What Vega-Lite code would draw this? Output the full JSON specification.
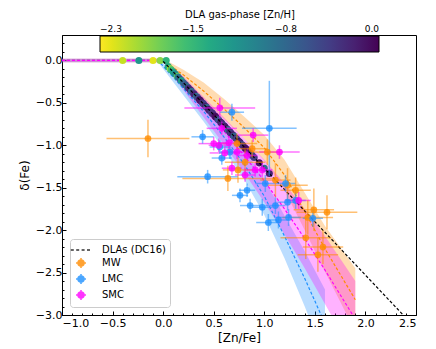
{
  "$schema": "https://vega.github.io/schema/vega-lite/v6.json",
  "width": 354,
  "height": 280,
  "autosize": {"type": "none"},
  "padding": {"left": 62, "top": 35, "right": 20, "bottom": 34},
  "background": "white",
  "config": {
    "font": "DejaVu Sans",
    "view": {"stroke": "black", "strokeWidth": 1},
    "axis": {"domainColor": "black", "tickColor": "black", "labelColor": "black", "titleColor": "black", "grid": false, "labelFont": "DejaVu Sans", "titleFont": "DejaVu Sans", "labelFontSize": 11, "titleFontSize": 12, "titleFontWeight": "normal", "tickSize": -4, "labelPadding": 4},
    "axisX": {"labelPadding": 6, "titlePadding": 4},
    "legend": {"labelFont": "DejaVu Sans", "titleFont": "DejaVu Sans", "labelColor": "black", "titleColor": "black"}
  },
  "datasets": {
    "model": [
      {"s": "MW", "x": -1, "y": 0, "lo": -0.02, "hi": 0.02},
      {"s": "MW", "x": 0, "y": 0, "lo": -0.02, "hi": 0.02},
      {"s": "MW", "x": 0.2, "y": -0.17, "lo": -0.23, "hi": -0.11},
      {"s": "MW", "x": 0.4, "y": -0.36, "lo": -0.46, "hi": -0.26},
      {"s": "MW", "x": 0.6, "y": -0.57, "lo": -0.69, "hi": -0.45},
      {"s": "MW", "x": 0.8, "y": -0.79, "lo": -0.92, "hi": -0.66},
      {"s": "MW", "x": 1.0, "y": -1.03, "lo": -1.18, "hi": -0.88},
      {"s": "MW", "x": 1.2, "y": -1.35, "lo": -1.53, "hi": -1.17},
      {"s": "MW", "x": 1.4, "y": -1.78, "lo": -2.0, "hi": -1.56},
      {"s": "MW", "x": 1.6, "y": -2.22, "lo": -2.49, "hi": -1.95},
      {"s": "MW", "x": 1.75, "y": -2.52, "lo": -2.84, "hi": -2.2},
      {"s": "MW", "x": 1.9, "y": -2.82, "lo": -3.2, "hi": -2.45},
      {"s": "LMC", "x": -1, "y": 0, "lo": -0.02, "hi": 0.02},
      {"s": "LMC", "x": -0.05, "y": 0, "lo": -0.02, "hi": 0.02},
      {"s": "LMC", "x": 0.2, "y": -0.33, "lo": -0.41, "hi": -0.25},
      {"s": "LMC", "x": 0.4, "y": -0.6, "lo": -0.72, "hi": -0.49},
      {"s": "LMC", "x": 0.6, "y": -0.9, "lo": -1.05, "hi": -0.76},
      {"s": "LMC", "x": 0.8, "y": -1.22, "lo": -1.4, "hi": -1.05},
      {"s": "LMC", "x": 1.0, "y": -1.6, "lo": -1.82, "hi": -1.4},
      {"s": "LMC", "x": 1.2, "y": -2.07, "lo": -2.33, "hi": -1.83},
      {"s": "LMC", "x": 1.4, "y": -2.57, "lo": -2.9, "hi": -2.25},
      {"s": "LMC", "x": 1.6, "y": -3.1, "lo": -3.5, "hi": -2.7},
      {"s": "SMC", "x": -1, "y": 0, "lo": -0.02, "hi": 0.02},
      {"s": "SMC", "x": 0, "y": 0, "lo": -0.02, "hi": 0.02},
      {"s": "SMC", "x": 0.2, "y": -0.27, "lo": -0.35, "hi": -0.19},
      {"s": "SMC", "x": 0.4, "y": -0.55, "lo": -0.67, "hi": -0.43},
      {"s": "SMC", "x": 0.6, "y": -0.83, "lo": -0.99, "hi": -0.67},
      {"s": "SMC", "x": 0.8, "y": -1.12, "lo": -1.32, "hi": -0.92},
      {"s": "SMC", "x": 1.0, "y": -1.42, "lo": -1.67, "hi": -1.17},
      {"s": "SMC", "x": 1.2, "y": -1.75, "lo": -2.05, "hi": -1.45},
      {"s": "SMC", "x": 1.4, "y": -2.1, "lo": -2.45, "hi": -1.75},
      {"s": "SMC", "x": 1.6, "y": -2.47, "lo": -2.87, "hi": -2.07},
      {"s": "SMC", "x": 1.9, "y": -3.05, "lo": -3.5, "hi": -2.6}
    ],
    "dla": [
      {"x": -0.40, "y": 0, "znh": -2.1},
      {"x": -0.24, "y": 0, "znh": -1.2},
      {"x": -0.10, "y": 0, "znh": -2.2},
      {"x": -0.03, "y": 0, "znh": -1.9},
      {"x": 0.03, "y": 0, "znh": -1.5},
      {"x": 0.05, "y": -0.073, "znh": -1.4},
      {"x": 0.07, "y": -0.098, "znh": -2.0},
      {"x": 0.08, "y": -0.111, "znh": -1.6},
      {"x": 0.10, "y": -0.136, "znh": -1.3},
      {"x": 0.12, "y": -0.161, "znh": -1.1},
      {"x": 0.14, "y": -0.186, "znh": -1.7},
      {"x": 0.15, "y": -0.199, "znh": -0.9},
      {"x": 0.17, "y": -0.224, "znh": -0.5},
      {"x": 0.18, "y": -0.237, "znh": -1.3},
      {"x": 0.20, "y": -0.262, "znh": -0.8},
      {"x": 0.22, "y": -0.287, "znh": -0.6},
      {"x": 0.24, "y": -0.312, "znh": -1.0},
      {"x": 0.25, "y": -0.325, "znh": -0.3},
      {"x": 0.27, "y": -0.350, "znh": -0.15},
      {"x": 0.28, "y": -0.363, "znh": -0.8},
      {"x": 0.30, "y": -0.388, "znh": -0.4},
      {"x": 0.31, "y": -0.401, "znh": -0.2},
      {"x": 0.33, "y": -0.426, "znh": -0.9},
      {"x": 0.34, "y": -0.438, "znh": -0.5},
      {"x": 0.36, "y": -0.464, "znh": -0.05},
      {"x": 0.37, "y": -0.476, "znh": -0.1},
      {"x": 0.39, "y": -0.501, "znh": -0.3},
      {"x": 0.40, "y": -0.514, "znh": -0.4},
      {"x": 0.42, "y": -0.539, "znh": -0.15},
      {"x": 0.43, "y": -0.552, "znh": -0.7},
      {"x": 0.45, "y": -0.577, "znh": -0.1},
      {"x": 0.46, "y": -0.590, "znh": -0.2},
      {"x": 0.48, "y": -0.615, "znh": -0.45},
      {"x": 0.49, "y": -0.627, "znh": -0.3},
      {"x": 0.51, "y": -0.653, "znh": -0.2},
      {"x": 0.52, "y": -0.665, "znh": -0.05},
      {"x": 0.54, "y": -0.690, "znh": -0.35},
      {"x": 0.55, "y": -0.703, "znh": -0.6},
      {"x": 0.57, "y": -0.728, "znh": -0.1},
      {"x": 0.58, "y": -0.741, "znh": -0.25},
      {"x": 0.60, "y": -0.766, "znh": -0.4},
      {"x": 0.61, "y": -0.779, "znh": -0.15},
      {"x": 0.63, "y": -0.804, "znh": -0.05},
      {"x": 0.64, "y": -0.816, "znh": -0.9},
      {"x": 0.66, "y": -0.842, "znh": -0.2},
      {"x": 0.67, "y": -0.854, "znh": -0.35},
      {"x": 0.69, "y": -0.879, "znh": -0.1},
      {"x": 0.70, "y": -0.892, "znh": -0.7},
      {"x": 0.72, "y": -0.917, "znh": -0.3},
      {"x": 0.73, "y": -0.930, "znh": -0.5},
      {"x": 0.75, "y": -0.955, "znh": -0.05},
      {"x": 0.76, "y": -0.968, "znh": -0.2},
      {"x": 0.78, "y": -0.993, "znh": -0.6},
      {"x": 0.79, "y": -1.005, "znh": -0.3},
      {"x": 0.81, "y": -1.031, "znh": -0.1},
      {"x": 0.82, "y": -1.043, "znh": -0.05},
      {"x": 0.84, "y": -1.068, "znh": -0.25},
      {"x": 0.86, "y": -1.094, "znh": -0.15},
      {"x": 0.88, "y": -1.119, "znh": -0.5},
      {"x": 0.90, "y": -1.144, "znh": -0.4},
      {"x": 0.95, "y": -1.207, "znh": -0.1},
      {"x": 1.00, "y": -1.270, "znh": -0.8},
      {"x": 1.05, "y": -1.333, "znh": -0.2}
    ],
    "dc16": [
      {"s": "DLAs (DC16)", "x": 0, "y": -0.01},
      {"s": "DLAs (DC16)", "x": 2.37, "y": -2.996}
    ],
    "obs": [
      {"s": "MW", "x": -0.15, "y": -0.92, "xe": 0.41, "ye": 0.22},
      {"s": "MW", "x": 0.73, "y": -0.98, "xe": 0.2, "ye": 0.12},
      {"s": "MW", "x": 1.03, "y": -1.08, "xe": 0.15, "ye": 0.15},
      {"s": "MW", "x": 0.81, "y": -1.2, "xe": 0.2, "ye": 0.15},
      {"s": "MW", "x": 0.74, "y": -1.29, "xe": 0.15, "ye": 0.15},
      {"s": "MW", "x": 0.64, "y": -1.39, "xe": 0.45, "ye": 0.15},
      {"s": "MW", "x": 1.11, "y": -1.41, "xe": 0.15, "ye": 0.2},
      {"s": "MW", "x": 1.23, "y": -1.47, "xe": 0.2, "ye": 0.2},
      {"s": "MW", "x": 1.31, "y": -1.53, "xe": 0.15, "ye": 0.15},
      {"s": "MW", "x": 1.43, "y": -1.85, "xe": 0.25, "ye": 0.2},
      {"s": "MW", "x": 1.49, "y": -1.76, "xe": 0.2, "ye": 0.25},
      {"s": "MW", "x": 1.62, "y": -1.79, "xe": 0.3, "ye": 0.2},
      {"s": "MW", "x": 1.41, "y": -2.09, "xe": 0.25, "ye": 0.25},
      {"s": "MW", "x": 1.58, "y": -2.2, "xe": 0.2, "ye": 0.2},
      {"s": "MW", "x": 1.53, "y": -2.29, "xe": 0.2, "ye": 0.2},
      {"s": "MW", "x": 0.88, "y": -1.04, "xe": 0.15, "ye": 0.1},
      {"s": "LMC", "x": 0.39, "y": -0.9, "xe": 0.11, "ye": 0.08},
      {"s": "LMC", "x": 0.44, "y": -1.37, "xe": 0.3, "ye": 0.08},
      {"s": "LMC", "x": 0.68, "y": -0.61, "xe": 0.12, "ye": 0.1},
      {"s": "LMC", "x": 1.05, "y": -0.8, "xe": 0.27, "ye": 0.56},
      {"s": "LMC", "x": 0.56, "y": -1.02, "xe": 0.1, "ye": 0.08},
      {"s": "LMC", "x": 0.66, "y": -1.08, "xe": 0.1, "ye": 0.08},
      {"s": "LMC", "x": 0.83, "y": -1.53, "xe": 0.08, "ye": 0.08},
      {"s": "LMC", "x": 0.76, "y": -1.59, "xe": 0.08, "ye": 0.08},
      {"s": "LMC", "x": 0.86, "y": -1.71, "xe": 0.1, "ye": 0.08},
      {"s": "LMC", "x": 0.98, "y": -1.73, "xe": 0.1, "ye": 0.1},
      {"s": "LMC", "x": 1.01, "y": -1.45, "xe": 0.1, "ye": 0.1},
      {"s": "LMC", "x": 1.11, "y": -1.71, "xe": 0.1, "ye": 0.1},
      {"s": "LMC", "x": 1.24, "y": -1.85, "xe": 0.12, "ye": 0.1},
      {"s": "LMC", "x": 1.04, "y": -1.91, "xe": 0.12, "ye": 0.1},
      {"s": "LMC", "x": 1.14, "y": -1.88, "xe": 0.1, "ye": 0.1},
      {"s": "LMC", "x": 1.48, "y": -1.86, "xe": 0.1, "ye": 0.1},
      {"s": "LMC", "x": 1.21, "y": -1.45, "xe": 0.1, "ye": 0.1},
      {"s": "LMC", "x": 1.23, "y": -1.67, "xe": 0.1, "ye": 0.1},
      {"s": "LMC", "x": 1.31, "y": -1.65, "xe": 0.1, "ye": 0.1},
      {"s": "LMC", "x": 0.58, "y": -1.15, "xe": 0.1, "ye": 0.08},
      {"s": "SMC", "x": 0.56, "y": -0.56, "xe": 0.35, "ye": 0.12},
      {"s": "SMC", "x": 0.58, "y": -0.8, "xe": 0.15, "ye": 0.08},
      {"s": "SMC", "x": 0.5, "y": -0.98, "xe": 0.15, "ye": 0.08},
      {"s": "SMC", "x": 0.61, "y": -1.09, "xe": 0.15, "ye": 0.08},
      {"s": "SMC", "x": 0.89, "y": -0.88, "xe": 0.15, "ye": 0.08},
      {"s": "SMC", "x": 1.15, "y": -1.08, "xe": 0.2, "ye": 0.08},
      {"s": "SMC", "x": 0.73, "y": -1.08, "xe": 0.1, "ye": 0.08},
      {"s": "SMC", "x": 0.83, "y": -1.12, "xe": 0.1, "ye": 0.08},
      {"s": "SMC", "x": 0.68, "y": -1.27, "xe": 0.1, "ye": 0.08},
      {"s": "SMC", "x": 0.91, "y": -1.29, "xe": 0.1, "ye": 0.08},
      {"s": "SMC", "x": 0.98, "y": -1.29, "xe": 0.1, "ye": 0.08},
      {"s": "SMC", "x": 0.81, "y": -1.35, "xe": 0.1, "ye": 0.08},
      {"s": "SMC", "x": 1.34, "y": -1.65, "xe": 0.12, "ye": 0.1},
      {"s": "SMC", "x": 0.55, "y": -1.0, "xe": 0.1, "ye": 0.08},
      {"s": "SMC", "x": 0.65, "y": -0.97, "xe": 0.1, "ye": 0.08}
    ],
    "legendrows": [
      {"s": "DLAs (DC16)", "x": 10, "y": 10},
      {"s": "MW", "x": 10, "y": 10},
      {"s": "LMC", "x": 10, "y": 10},
      {"s": "SMC", "x": 10, "y": 10}
    ],
    "minor": [{"x": 10, "y": 10}]
  },
  "layer": [
    {
      "layer": [
        {
          "data": {"name": "model"},
          "mark": {"type": "area", "opacity": 0.3, "clip": true},
          "encoding": {
            "x": {"field": "x", "type": "quantitative", "title": "[Zn/Fe]", "scale": {"domain": [-1, 2.5], "nice": false, "zero": false}, "axis": {"values": [-1, -0.5, 0, 0.5, 1, 1.5, 2, 2.5], "format": ".1f", "orient": "bottom"}},
            "y": {"field": "lo", "type": "quantitative", "title": "δ(Fe)", "scale": {"domain": [-3, 0.3], "nice": false, "zero": false}, "axis": {"values": [-3, -2.5, -2, -1.5, -1, -0.5, 0], "format": ".1f", "orient": "left"}},
            "y2": {"field": "hi"},
            "color": {"field": "s", "type": "nominal", "scale": {"domain": ["DLAs (DC16)", "MW", "LMC", "SMC"], "range": ["black", "#ff8c00", "#1e90ff", "#ff00ff"]}}
          }
        },
        {
          "data": {"name": "model"},
          "mark": {"type": "line", "strokeDash": [3, 2], "strokeWidth": 1.2, "clip": true},
          "encoding": {
            "x": {"field": "x", "type": "quantitative", "title": "[Zn/Fe]"},
            "y": {"field": "y", "type": "quantitative", "title": "δ(Fe)"},
            "color": {"field": "s", "type": "nominal"}
          }
        },
        {
          "data": {"name": "dla"},
          "mark": {"type": "point", "filled": true, "size": 50, "opacity": 1, "clip": true},
          "encoding": {
            "x": {"field": "x", "type": "quantitative", "title": "[Zn/Fe]"},
            "y": {"field": "y", "type": "quantitative", "title": "δ(Fe)"},
            "fill": {"field": "znh", "type": "quantitative", "scale": {"scheme": "viridis", "reverse": true, "domain": [-2.3, 0]},
              "legend": {"orient": "none", "direction": "horizontal", "legendX": 38, "legendY": -25, "gradientLength": 279, "gradientThickness": 16, "gradientStrokeColor": "black", "gradientStrokeWidth": 1, "title": "DLA gas-phase [Zn/H]", "titleFontSize": 10, "titleFontWeight": "normal", "titleAnchor": "middle", "titlePadding": 16, "values": [-2.3, -1.5333, -0.7667, 0], "format": ".1f", "labelOffset": -27, "labelBaseline": "bottom", "labelAlign": "center", "labelFontSize": 9, "labelOverlap": false, "padding": 0}}
          }
        },
        {
          "data": {"name": "dc16"},
          "mark": {"type": "line", "strokeDash": [3, 2], "strokeWidth": 1.2, "clip": true},
          "encoding": {
            "x": {"field": "x", "type": "quantitative", "title": "[Zn/Fe]"},
            "y": {"field": "y", "type": "quantitative", "title": "δ(Fe)"},
            "color": {"field": "s", "type": "nominal"}
          }
        },
        {
          "data": {"name": "obs"},
          "mark": {"type": "errorbar", "orient": "horizontal", "thickness": 1.5, "opacity": 0.55},
          "encoding": {
            "x": {"field": "x", "type": "quantitative", "title": "[Zn/Fe]"},
            "xError": {"field": "xe"},
            "y": {"field": "y", "type": "quantitative", "title": "δ(Fe)"},
            "color": {"field": "s", "type": "nominal"}
          }
        },
        {
          "data": {"name": "obs"},
          "mark": {"type": "errorbar", "orient": "vertical", "thickness": 1.5, "opacity": 0.55},
          "encoding": {
            "x": {"field": "x", "type": "quantitative", "title": "[Zn/Fe]"},
            "y": {"field": "y", "type": "quantitative", "title": "δ(Fe)"},
            "yError": {"field": "ye"},
            "color": {"field": "s", "type": "nominal"}
          }
        },
        {
          "data": {"name": "obs"},
          "mark": {"type": "point", "filled": true, "size": 45, "opacity": 0.8, "clip": true},
          "encoding": {
            "x": {"field": "x", "type": "quantitative", "title": "[Zn/Fe]"},
            "y": {"field": "y", "type": "quantitative", "title": "δ(Fe)"},
            "color": {"field": "s", "type": "nominal"}
          }
        },
        {
          "data": {"name": "legendrows"},
          "mark": {"type": "point", "filled": true, "clip": true},
          "encoding": {
            "x": {"field": "x", "type": "quantitative", "title": "[Zn/Fe]"},
            "y": {"field": "y", "type": "quantitative", "title": "δ(Fe)"},
            "color": {"field": "s", "type": "nominal", "legend": {"orient": "bottom-left", "offset": 8, "title": null, "labelFontSize": 10, "symbolSize": 144, "labelOffset": 14, "strokeColor": "#cccccc", "fillColor": "white", "padding": 4, "cornerRadius": 3, "rowPadding": 0, "symbolOpacity": 0.8, "symbolStrokeWidth": 1.5,
              "encode": {"symbols": {"update": {"stroke": {"scale": "color", "field": "value"}, "fill": {"scale": "color", "field": "value"}, "strokeWidth": {"value": 1.5}, "opacity": {"value": 0.8}, "fillOpacity": {"value": 1}, "strokeOpacity": {"value": 1}}}}}},
            "shape": {"field": "s", "type": "nominal", "scale": {"domain": ["DLAs (DC16)", "MW", "LMC", "SMC"], "range": ["M-1.7,0H-1.2M-0.8,0H-0.3M0.1,0H0.6M1.0,0H1.5", "M-0.83,0H0.83M0,-0.83V0.83M-0.5,0A0.5,0.5 0 1,0 0.5,0A0.5,0.5 0 1,0 -0.5,0Z", "M-0.83,0H0.83M0,-0.83V0.83M-0.5,0A0.5,0.5 0 1,0 0.5,0A0.5,0.5 0 1,0 -0.5,0Z", "M-0.83,0H0.83M0,-0.83V0.83M-0.5,0A0.5,0.5 0 1,0 0.5,0A0.5,0.5 0 1,0 -0.5,0Z"]},
              "legend": {"orient": "bottom-left", "offset": 8, "title": null}}
          }
        }
      ]
    },
    {
      "data": {"name": "minor"},
      "mark": {"type": "point", "clip": true, "opacity": 0},
      "encoding": {
        "x": {"field": "x", "type": "quantitative", "axis": {"orient": "bottom", "values": [-0.9, -0.8, -0.7, -0.6, -0.4, -0.3, -0.2, -0.1, 0.1, 0.2, 0.3, 0.4, 0.6, 0.7, 0.8, 0.9, 1.1, 1.2, 1.3, 1.4, 1.6, 1.7, 1.8, 1.9, 2.1, 2.2, 2.3, 2.4], "labels": false, "domain": false, "tickSize": -2, "title": null}},
        "y": {"field": "y", "type": "quantitative", "axis": {"orient": "left", "values": [-2.9, -2.8, -2.7, -2.6, -2.4, -2.3, -2.2, -2.1, -1.9, -1.8, -1.7, -1.6, -1.4, -1.3, -1.2, -1.1, -0.9, -0.8, -0.7, -0.6, -0.4, -0.3, -0.2, -0.1, 0.1, 0.2], "labels": false, "domain": false, "tickSize": -2, "title": null}}
      }
    }
  ],
  "resolve": {"axis": {"x": "independent", "y": "independent"}}
}
